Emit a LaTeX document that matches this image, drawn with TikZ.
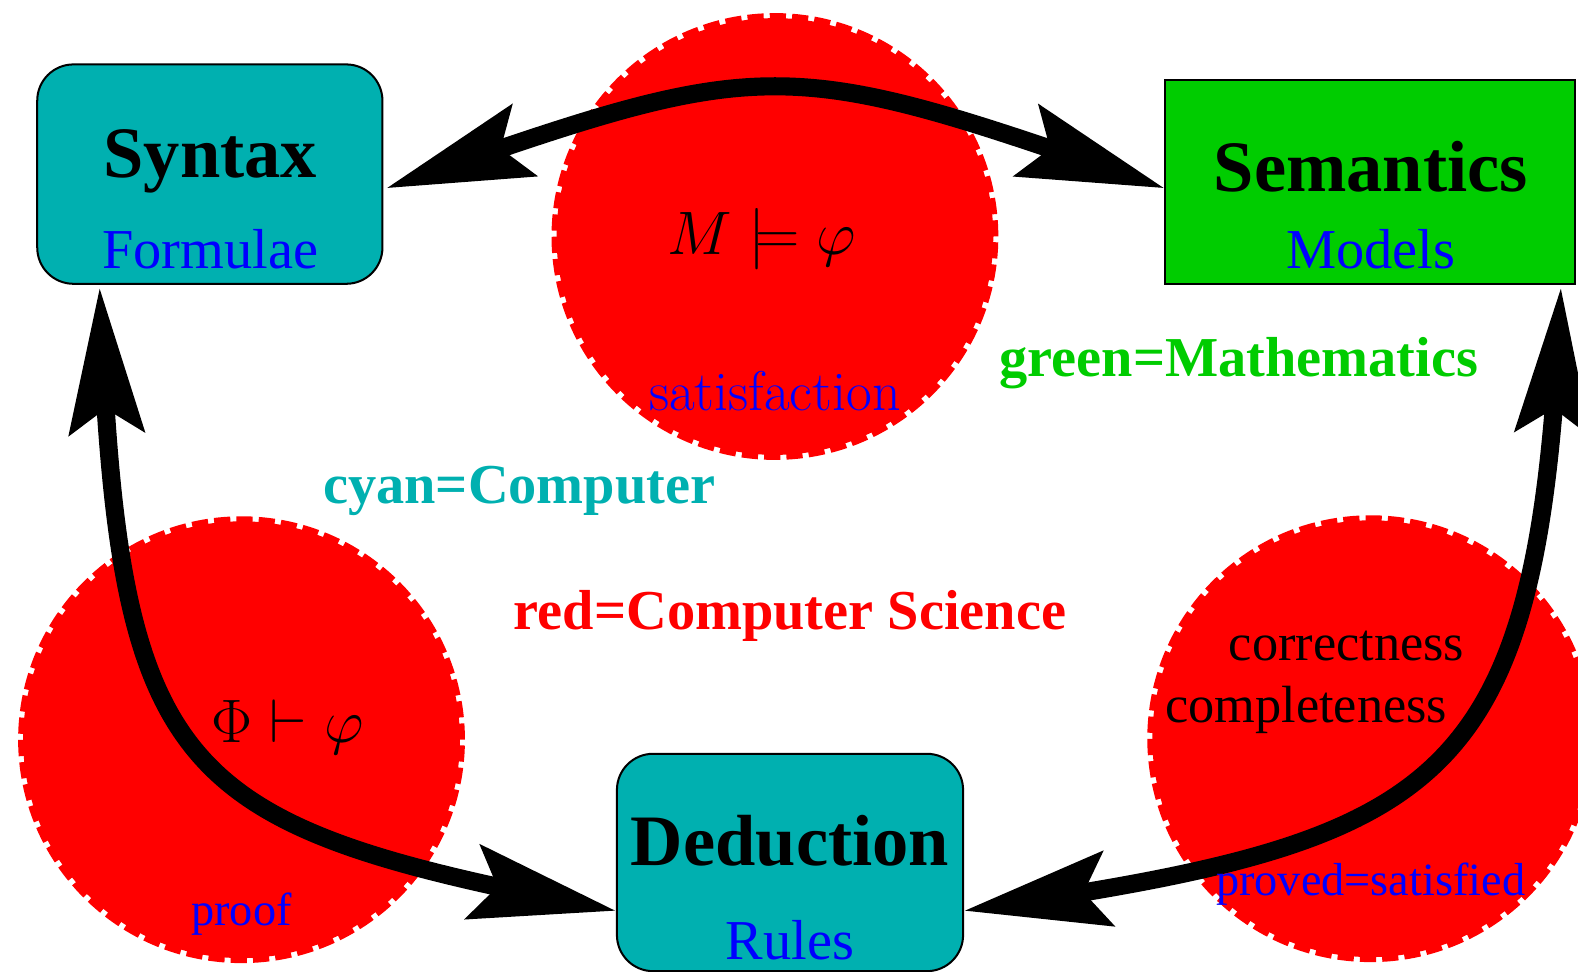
\documentclass[tikz,border=0pt]{standalone}
\usepackage{fix-cm}
\usepackage{fontspec}
\newfontfamily\tms{Liberation Serif}
\usetikzlibrary{arrows.meta,bending}
\definecolor{cyanbox}{RGB}{0,176,176}
\definecolor{greenbox}{RGB}{0,204,0}
\tikzset{
  redcirc/.style={circle, fill=red, draw=red, line width=5pt, dash pattern=on 8pt off 3pt, minimum size=217pt, inner sep=0pt},
  roundbox/.style={rectangle, rounded corners=18pt, fill=cyanbox, draw=black, line width=1pt, inner sep=0pt},
  sharpbox/.style={rectangle, fill=greenbox, draw=black, line width=1pt, inner sep=0pt},
  conn/.style={line width=9pt, black, {Stealth[length=72pt,width=37pt,inset=12pt,flex]}-{Stealth[length=72pt,width=37pt,inset=12pt,flex]}},
  title/.style={anchor=base, inner sep=0pt, font=\tms\bfseries\fontsize{36}{40}\selectfont},
  sub/.style={anchor=base, inner sep=0pt, text=blue, font=\tms\fontsize{28}{32}\selectfont},
  legend/.style={anchor=base, inner sep=0pt, font=\tms\bfseries\fontsize{28}{32}\selectfont},
  small/.style={anchor=base, inner sep=0pt, font=\tms\fontsize{23}{27}\selectfont},
  mid/.style={anchor=base, inner sep=0pt, font=\tms\fontsize{26}{30}\selectfont},
  formula/.style={anchor=base, inner sep=0pt, font=\fontsize{30.5}{36}\selectfont},
}
\begin{document}
\begin{tikzpicture}[x=0.5pt, y=-0.5pt]
\useasboundingbox (0,0) rectangle (1568,965);
% circles
\node[redcirc] (sat) at (770,235) {};
\node[redcirc] (prf) at (240,735) {};
\node[redcirc] (cc) at (1362,734) {};
% boxes
\node[roundbox, minimum width=171.5pt, minimum height=109pt] (syn) at (208.5,173) {};
\node[sharpbox, minimum width=203.5pt, minimum height=101.5pt] (sem) at (1361.5,180.5) {};
\node[roundbox, minimum width=172pt, minimum height=108pt] (ded) at (785,857) {};
% connectors
\draw[conn] ([xshift=1.5pt,yshift=-7pt]syn.east) .. controls (770,52) and (770,52) .. ([yshift=-3.25pt]sem.west);
\draw[conn] ([xshift=31.5pt,yshift=-1.5pt]syn.south west) .. controls (118,780) and (170,820) .. ([yshift=-24pt]ded.west);
\draw[conn] ([xshift=-7.5pt,yshift=-1.5pt]sem.south east) .. controls (1530,790) and (1440,835) .. ([yshift=-24pt]ded.east);
% box texts
\node[title] (synt) at (209,176) {Syntax};
\node[sub] (synf) at (209,267) {Formulae};
\node[title] (semt) at (1362,190) {Semantics};
\node[sub] (semm) at (1362,267) {Models};
\node[title] (dedt) at (785,860) {Deduction};
\node[sub] (dedr) at (785,953) {Rules};
% circle texts
\node[formula] (satf) at (757,253) {$M\models\varphi$};
\node[anchor=base, inner sep=0pt, text=blue, font=\fontsize{27.8}{33}\selectfont] (satl) at (770,408) {satisfaction};
\node[formula] (prff) at (286,738) {$\Phi\vdash\varphi$};
\node[small, text=blue] (prfl) at (240,920) {proof};
\node[mid] (cc1) at (1338,656) {correctness};
\node[mid] (cc2) at (1298,718) {completeness};
\node[small, text=blue] (cc3) at (1362,890) {proved=satisfied};
% legend
\node[legend, text=greenbox] (lg) at (1231,374) {green=Mathematics};
\node[legend, text=cyanbox] (lc) at (516,500) {cyan=Computer};
\node[legend, text=red] (lr) at (785,625) {red=Computer Science};
\end{tikzpicture}
\end{document}
